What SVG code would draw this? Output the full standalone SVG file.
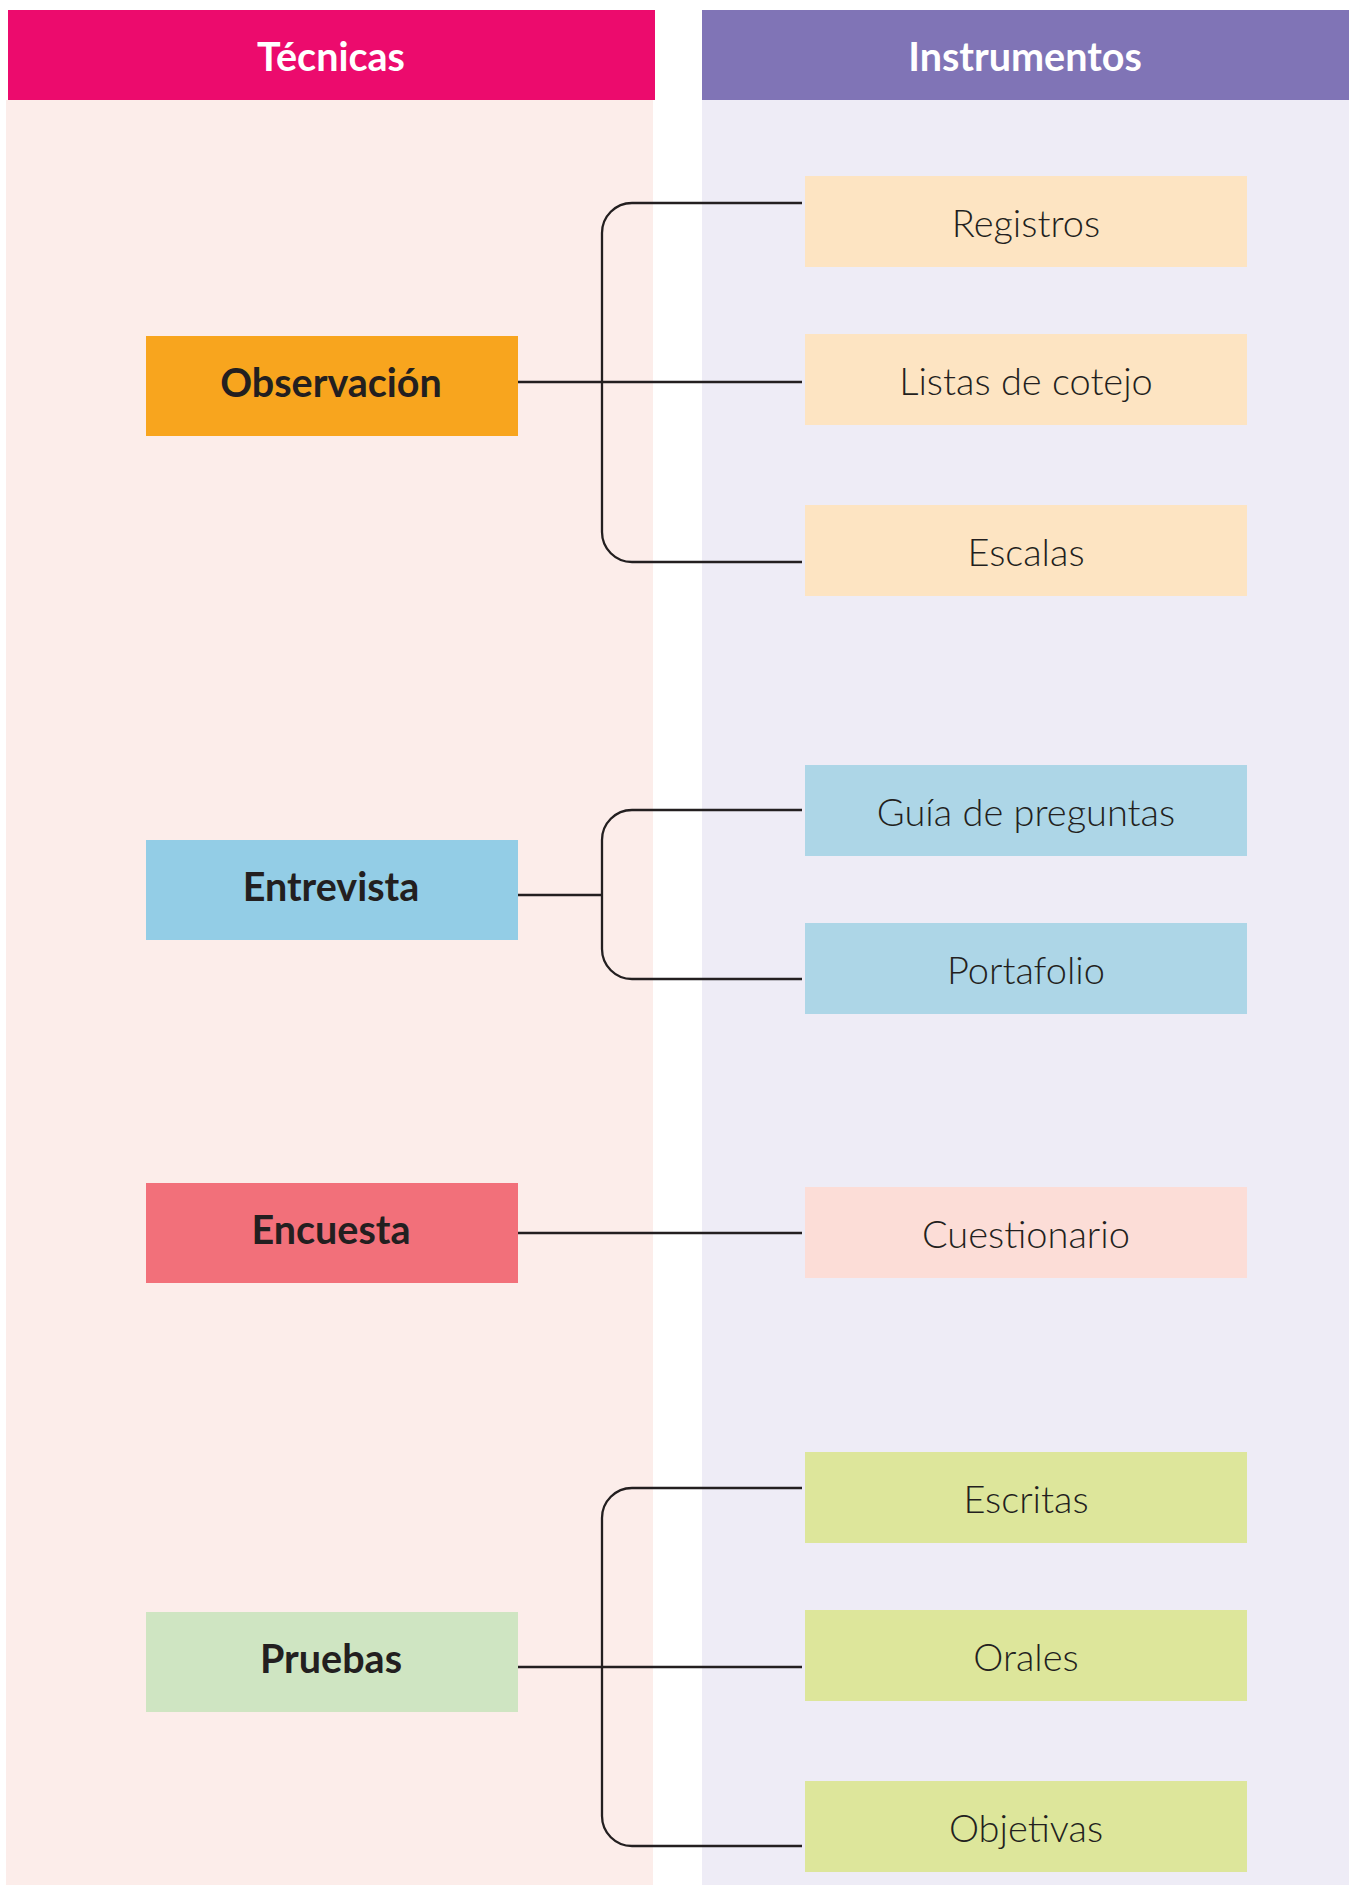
<svg xmlns="http://www.w3.org/2000/svg" width="1356" height="1885" viewBox="0 0 1356 1885">
<style>
.hdr{font-family:Lato,"Open Sans","Liberation Sans",sans-serif;font-weight:700;font-size:39.5px;fill:#ffffff;text-anchor:middle}
.tec{font-family:Lato,"Open Sans","Liberation Sans",sans-serif;font-weight:700;font-size:39.5px;fill:#231F20;text-anchor:middle}
.ins{font-family:Lato,"Open Sans","Liberation Sans",sans-serif;font-weight:300;font-size:38px;fill:#231F20;text-anchor:middle}
.conn{fill:none;stroke:#231F20;stroke-width:2.3}
</style>
<rect x="0" y="0" width="1356" height="1885" fill="#ffffff"/>
<g id="panel-tecnicas">
<rect x="6" y="100" width="647" height="1785" fill="#FCEDEA"/>
<rect x="8" y="10" width="647" height="90" fill="#EC0B6D"/>
<text class="hdr" x="331" y="71">Técnicas</text>
</g>
<g id="panel-instrumentos">
<rect x="702" y="100" width="647" height="1785" fill="#EEECF6"/>
<rect x="702" y="10" width="647" height="90" fill="#8074B6"/>
<text class="hdr" x="1025" y="71">Instrumentos</text>
</g>
<g id="connectors">
<path class="conn" d="M518 382H802"/>
<path class="conn" d="M802 203H632A30 30 0 0 0 602 233V532A30 30 0 0 0 632 562H802"/>
<path class="conn" d="M518 895H603"/>
<path class="conn" d="M802 810H632A30 30 0 0 0 602 840V949A30 30 0 0 0 632 979H802"/>
<path class="conn" d="M518 1233H802"/>
<path class="conn" d="M518 1667H802"/>
<path class="conn" d="M802 1488H632A30 30 0 0 0 602 1518V1816A30 30 0 0 0 632 1846H802"/>
</g>
<g id="observacion"><rect x="146" y="336" width="372" height="100" fill="#F8A51E"/><text class="tec" x="331" y="397">Observación</text></g>
<g id="entrevista"><rect x="146" y="840" width="372" height="100" fill="#93CDE6"/><text class="tec" x="331" y="901">Entrevista</text></g>
<g id="encuesta"><rect x="146" y="1183" width="372" height="100" fill="#F2707A"/><text class="tec" x="331" y="1244">Encuesta</text></g>
<g id="pruebas"><rect x="146" y="1612" width="372" height="100" fill="#CFE5C2"/><text class="tec" x="331" y="1673">Pruebas</text></g>
<g id="registros"><rect x="805" y="176" width="442" height="91" fill="#FDE4C2"/><text class="ins" x="1026" y="237">Registros</text></g>
<g id="listas"><rect x="805" y="334" width="442" height="91" fill="#FDE4C2"/><text class="ins" x="1026" y="395">Listas de cotejo</text></g>
<g id="escalas"><rect x="805" y="505" width="442" height="91" fill="#FDE4C2"/><text class="ins" x="1026" y="566">Escalas</text></g>
<g id="guia"><rect x="805" y="765" width="442" height="91" fill="#ADD6E7"/><text class="ins" x="1026" y="826">Guía de preguntas</text></g>
<g id="portafolio"><rect x="805" y="923" width="442" height="91" fill="#ADD6E7"/><text class="ins" x="1026" y="984">Portafolio</text></g>
<g id="cuestionario"><rect x="805" y="1187" width="442" height="91" fill="#FCDDD7"/><text class="ins" x="1026" y="1248">Cuestionario</text></g>
<g id="escritas"><rect x="805" y="1452" width="442" height="91" fill="#DDE69B"/><text class="ins" x="1026" y="1513">Escritas</text></g>
<g id="orales"><rect x="805" y="1610" width="442" height="91" fill="#DDE69B"/><text class="ins" x="1026" y="1671">Orales</text></g>
<g id="objetivas"><rect x="805" y="1781" width="442" height="91" fill="#DDE69B"/><text class="ins" x="1026" y="1842">Objetivas</text></g>
</svg>
